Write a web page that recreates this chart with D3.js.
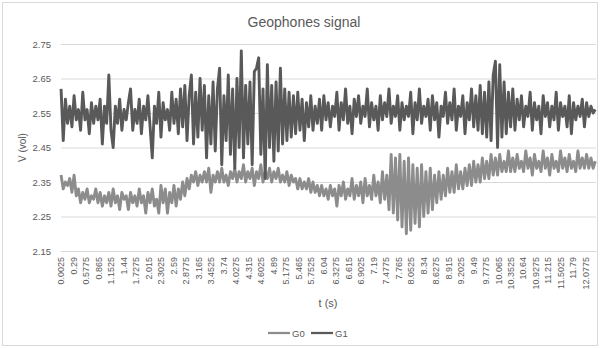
<!DOCTYPE html>
<html>
<head>
<meta charset="utf-8">
<script src="https://cdn.jsdelivr.net/npm/d3@7"></script>
<style>
  body { margin: 0; background: #fff; }
  svg { font-family: "Liberation Sans", Arial, sans-serif; display: block; }
</style>
</head>
<body>
<svg id="chart" width="600" height="348"></svg>
<script>
// sample spacing of the values below (seconds), first sample at tStart
const tStart = 0.0025;
const tStep = 0.05;

const g0 = [
  2.37, 2.33, 2.35, 2.34, 2.36, 2.32, 2.37, 2.31, 2.33, 2.29,
  2.32, 2.30, 2.33, 2.29, 2.31, 2.30, 2.33, 2.29, 2.32, 2.28,
  2.31, 2.29, 2.32, 2.28, 2.33, 2.29, 2.31, 2.27, 2.32, 2.30,
  2.31, 2.27, 2.32, 2.29, 2.31, 2.28, 2.33, 2.29, 2.31, 2.26,
  2.32, 2.29, 2.33, 2.28, 2.30, 2.26, 2.34, 2.29, 2.33, 2.26,
  2.32, 2.29, 2.34, 2.28, 2.33, 2.30, 2.35, 2.31, 2.36, 2.33,
  2.37, 2.35, 2.38, 2.34, 2.37, 2.35, 2.38, 2.35, 2.39, 2.32,
  2.37, 2.35, 2.38, 2.35, 2.39, 2.35, 2.37, 2.34, 2.38, 2.36,
  2.39, 2.35, 2.38, 2.36, 2.40, 2.35, 2.38, 2.36, 2.39, 2.34,
  2.38, 2.36, 2.40, 2.35, 2.38, 2.36, 2.39, 2.35, 2.38, 2.36,
  2.39, 2.35, 2.37, 2.35, 2.38, 2.34, 2.37, 2.35, 2.36, 2.33,
  2.36, 2.33, 2.35, 2.33, 2.36, 2.32, 2.35, 2.32, 2.34, 2.31,
  2.34, 2.31, 2.33, 2.30, 2.34, 2.31, 2.33, 2.28, 2.34, 2.31,
  2.35, 2.30, 2.33, 2.31, 2.36, 2.30, 2.34, 2.31, 2.35, 2.29,
  2.36, 2.31, 2.34, 2.30, 2.37, 2.31, 2.35, 2.29, 2.38, 2.30,
  2.37, 2.27, 2.43, 2.26, 2.42, 2.24, 2.43, 2.22, 2.41, 2.20,
  2.42, 2.21, 2.40, 2.23, 2.39, 2.22, 2.40, 2.25, 2.38, 2.26,
  2.39, 2.27, 2.37, 2.29, 2.38, 2.30, 2.37, 2.31, 2.39, 2.32,
  2.38, 2.32, 2.40, 2.33, 2.38, 2.33, 2.39, 2.34, 2.40, 2.34,
  2.41, 2.35, 2.40, 2.35, 2.42, 2.36, 2.41, 2.36, 2.43, 2.37,
  2.42, 2.37, 2.43, 2.38, 2.41, 2.38, 2.44, 2.38, 2.42, 2.38,
  2.43, 2.39, 2.41, 2.38, 2.44, 2.39, 2.42, 2.37, 2.43, 2.39,
  2.41, 2.38, 2.44, 2.39, 2.42, 2.37, 2.43, 2.39, 2.41, 2.38,
  2.44, 2.39, 2.42, 2.38, 2.43, 2.39, 2.41, 2.38, 2.44, 2.39,
  2.42, 2.39, 2.43, 2.39, 2.42, 2.39, 2.41
];

const g1 = [
  2.62, 2.47, 2.59, 2.52, 2.57, 2.51, 2.60, 2.53, 2.56, 2.50,
  2.61, 2.53, 2.56, 2.49, 2.58, 2.52, 2.57, 2.53, 2.59, 2.46,
  2.57, 2.52, 2.66, 2.50, 2.45, 2.57, 2.52, 2.59, 2.50, 2.56,
  2.53, 2.58, 2.62, 2.50, 2.56, 2.52, 2.59, 2.49, 2.57, 2.53,
  2.60, 2.51, 2.42, 2.57, 2.52, 2.61, 2.48, 2.58, 2.53, 2.56,
  2.50, 2.61, 2.52, 2.59, 2.49, 2.62, 2.51, 2.63, 2.47, 2.60,
  2.66, 2.46, 2.61, 2.48, 2.65, 2.50, 2.63, 2.42, 2.60, 2.46,
  2.64, 2.44, 2.62, 2.68, 2.40, 2.60, 2.47, 2.66, 2.43, 2.62,
  2.39, 2.65, 2.45, 2.73, 2.42, 2.63, 2.46, 2.64, 2.40, 2.67,
  2.68, 2.71, 2.43, 2.62, 2.36, 2.69, 2.45, 2.63, 2.41, 2.64,
  2.44, 2.68, 2.46, 2.62, 2.47, 2.61, 2.48, 2.60, 2.49, 2.61,
  2.50, 2.59, 2.47, 2.58, 2.51, 2.60, 2.50, 2.57, 2.52, 2.59,
  2.50, 2.60, 2.53, 2.58, 2.51, 2.57, 2.54, 2.61, 2.50, 2.58,
  2.53, 2.62, 2.52, 2.57, 2.49, 2.59, 2.54, 2.60, 2.52, 2.57,
  2.54, 2.62, 2.51, 2.58, 2.53, 2.57, 2.50, 2.60, 2.53, 2.58,
  2.54, 2.62, 2.52, 2.57, 2.54, 2.60, 2.50, 2.58, 2.53, 2.57,
  2.54, 2.61, 2.49, 2.58, 2.53, 2.62, 2.52, 2.57, 2.54, 2.59,
  2.50, 2.60, 2.53, 2.58, 2.48, 2.57, 2.54, 2.61, 2.52, 2.58,
  2.53, 2.62, 2.50, 2.57, 2.54, 2.60, 2.49, 2.58, 2.53, 2.62,
  2.51, 2.60, 2.50, 2.63, 2.49, 2.61, 2.48, 2.64, 2.47, 2.66,
  2.70, 2.45, 2.69, 2.48, 2.64, 2.49, 2.61, 2.51, 2.62, 2.50,
  2.59, 2.53, 2.60, 2.51, 2.57, 2.54, 2.61, 2.50, 2.58, 2.53,
  2.57, 2.49, 2.60, 2.54, 2.58, 2.51, 2.57, 2.53, 2.61, 2.50,
  2.58, 2.54, 2.57, 2.51, 2.60, 2.49, 2.58, 2.53, 2.57, 2.54,
  2.59, 2.51, 2.58, 2.54, 2.57, 2.55, 2.56
];

const xTickLabels = [
  "0.0025", "0.29", "0.5775", "0.865", "1.1525", "1.44", "1.7275", "2.015",
  "2.3025", "2.59", "2.8775", "3.165", "3.4525", "3.74", "4.0275", "4.315",
  "4.6025", "4.89", "5.1775", "5.465", "5.7525", "6.04", "6.3275", "6.615",
  "6.9025", "7.19", "7.4775", "7.765", "8.0525", "8.34", "8.6275", "8.915",
  "9.2025", "9.49", "9.7775", "10.065", "10.3525", "10.64", "10.9275",
  "11.215", "11.5025", "11.79", "12.0775"
];
const yTicks = [2.15, 2.25, 2.35, 2.45, 2.55, 2.65, 2.75];

const seriesNames = ["G0", "G1"];
const seriesColors = ["#8c8c8c", "#595959"];

const margin = { top: 44, right: 4, bottom: 97, left: 61 };
const width = 600, height = 348;
const plotW = width - margin.left - margin.right;
const plotH = height - margin.top - margin.bottom;

const svg = d3.select('#chart');

// chart area border
svg.append('rect')
    .attr('x', 2.5).attr('y', 2.5)
    .attr('width', 595).attr('height', 343)
    .attr('fill', '#fff')
    .attr('stroke', '#d9d9d9');

svg.append('text')
    .attr('x', 304).attr('y', 27)
    .attr('text-anchor', 'middle')
    .attr('font-size', 14)
    .attr('fill', '#595959')
    .text('Geophones signal');

const g = svg.append('g').attr('transform', 'translate(' + margin.left + ',' + margin.top + ')');

// the category axis runs from half a sample before the first point
let x = d3.scaleLinear().domain([0.00125, 12.31875]).range([0, plotW]);
let y = d3.scaleLinear().domain([2.15, 2.75]).range([plotH, 0]);

let yAxis = g.append('g')
    .call(d3.axisLeft(y).tickValues(yTicks).tickSize(-plotW).tickPadding(10).tickFormat(d3.format('.2f')));
yAxis.select('.domain').remove();
yAxis.selectAll('line').attr('stroke', '#d9d9d9');
yAxis.selectAll('text').attr('fill', '#595959').attr('font-size', 9.5).attr('font-family', null);

let xAxis = g.append('g')
    .attr('transform', 'translate(0,' + plotH + ')')
    .call(d3.axisBottom(x).tickValues(xTickLabels.map(Number)).tickSize(0)
        .tickFormat((d, i) => xTickLabels[i]));
xAxis.select('.domain').attr('stroke', '#d9d9d9');
xAxis.selectAll('text')
    .attr('fill', '#595959')
    .attr('font-size', 9)
    .attr('font-family', null)
    .attr('transform', 'rotate(-90)')
    .attr('text-anchor', 'end')
    .attr('x', -6).attr('y', 0).attr('dy', '0.32em');

let line = d3.line().x((d, i) => x(tStart + i * tStep)).y(d => y(d));

[g0, g1].forEach((values, k) => {
    g.append('path')
        .datum(values)
        .attr('fill', 'none')
        .attr('stroke', seriesColors[k])
        .attr('stroke-width', 2.9)
        .attr('stroke-linejoin', 'round')
        .attr('d', line);
});

// axis titles
svg.append('text')
    .attr('transform', 'translate(26,' + (margin.top + plotH / 2) + ') rotate(-90)')
    .attr('text-anchor', 'middle')
    .attr('font-size', 10)
    .attr('fill', '#595959')
    .text('V (vol)');

svg.append('text')
    .attr('x', 328).attr('y', 307)
    .attr('text-anchor', 'middle')
    .attr('font-size', 11)
    .attr('fill', '#595959')
    .text('t (s)');

// legend
const legendX = [268, 311];
seriesNames.forEach((name, k) => {
    svg.append('line')
        .attr('x1', legendX[k]).attr('x2', legendX[k] + 22)
        .attr('y1', 333).attr('y2', 333)
        .attr('stroke', seriesColors[k])
        .attr('stroke-width', 2.25);
    svg.append('text')
        .attr('x', legendX[k] + 24).attr('y', 336.5)
        .attr('font-size', 9.5)
        .attr('fill', '#595959')
        .text(name);
});
</script>
</body>
</html>
